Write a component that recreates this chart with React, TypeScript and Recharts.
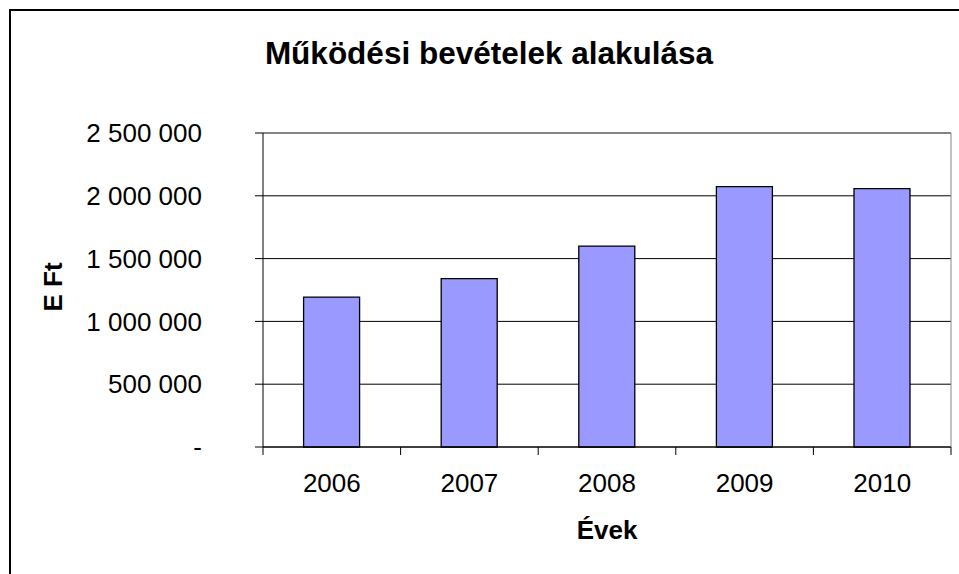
import { BarChart, Bar, XAxis, YAxis, CartesianGrid, ReferenceLine } from 'recharts';

const years = ['2006', '2007', '2008', '2009', '2010'];
const revenue = [1194000, 1341000, 1600000, 2073000, 2057000];
const yTicks = [0, 500000, 1000000, 1500000, 2000000, 2500000];

const data = years.map((year, i) => ({ year, revenue: revenue[i] }));

const WIDTH = 959;
const HEIGHT = 574;
const MARGIN = { top: 133, right: 0, bottom: 0, left: 0 };
const XAXIS_H = 127;
const YAXIS_W = 263;
const RIGHT_W = 8;
const AXIS_Y = HEIGHT - XAXIS_H;
const BAND = (WIDTH - YAXIS_W - RIGHT_W) / years.length;
const FONT = '"Liberation Sans", Arial, sans-serif';

const formatY = (v: number) => (v === 0 ? '-' : v.toLocaleString('en-US').replace(/,/g, ' '));

const XTick = ({ x, payload, index }: any) => (
  <g>
    <text x={x} y={AXIS_Y + 45} textAnchor="middle" fontSize={26} fontFamily={FONT} fill="#000">
      {payload.value}
    </text>
    <line x1={x - BAND / 2} x2={x - BAND / 2} y1={AXIS_Y} y2={AXIS_Y + 8} stroke="#000" />
    {index === years.length - 1 && (
      <line x1={x + BAND / 2} x2={x + BAND / 2} y1={AXIS_Y} y2={AXIS_Y + 8} stroke="#000" />
    )}
  </g>
);

export default function App() {
  return (
    <div style={{ position: 'absolute', left: 0, top: 0, width: WIDTH, height: HEIGHT, overflow: 'hidden', background: '#fff' }}>
      <div style={{ position: 'absolute', left: 9, top: 9, width: 1000, height: 700, border: '2px solid #000' }} />
      <BarChart width={WIDTH} height={HEIGHT} data={data} margin={MARGIN} barCategoryGap="29.5%">
        <CartesianGrid yAxisId="left" vertical={false} stroke="#000" strokeOpacity={1} />
        <XAxis
          dataKey="year"
          height={XAXIS_H}
          axisLine={{ stroke: '#000' }}
          tickLine={false}
          tick={<XTick />}
          interval={0}
        />
        <YAxis
          yAxisId="left"
          width={YAXIS_W}
          domain={[0, 2500000]}
          ticks={yTicks}
          tickFormatter={formatY}
          axisLine={{ stroke: '#000' }}
          tickLine={{ stroke: '#000' }}
          tickSize={8}
          tickMargin={53}
          tick={{ fontSize: 26, fontFamily: FONT, fill: '#000' }}
        />
        <YAxis
          yAxisId="right"
          orientation="right"
          width={RIGHT_W}
          domain={[0, 2500000]}
          tick={false}
          tickLine={false}
          axisLine={{ stroke: '#888' }}
        />
        <ReferenceLine yAxisId="left" y={2500000} stroke="#888" />
        <Bar yAxisId="left" dataKey="revenue" fill="#9999FF" stroke="#000" strokeWidth={1.3} isAnimationActive={false} />
      </BarChart>
      <svg width={WIDTH} height={HEIGHT} style={{ position: 'absolute', left: 0, top: 0, pointerEvents: 'none' }}>
        <text x={489} y={64} textAnchor="middle" fontSize={31.5} fontWeight="bold" fontFamily={FONT} fill="#000">
          Működési bevételek alakulása
        </text>
        <text transform="translate(62,287) rotate(-90)" textAnchor="middle" fontSize={26} fontWeight="bold" fontFamily={FONT} fill="#000">
          E Ft
        </text>
        <text x={607} y={539} textAnchor="middle" fontSize={26} fontWeight="bold" fontFamily={FONT} fill="#000">
          Évek
        </text>
      </svg>
    </div>
  );
}
